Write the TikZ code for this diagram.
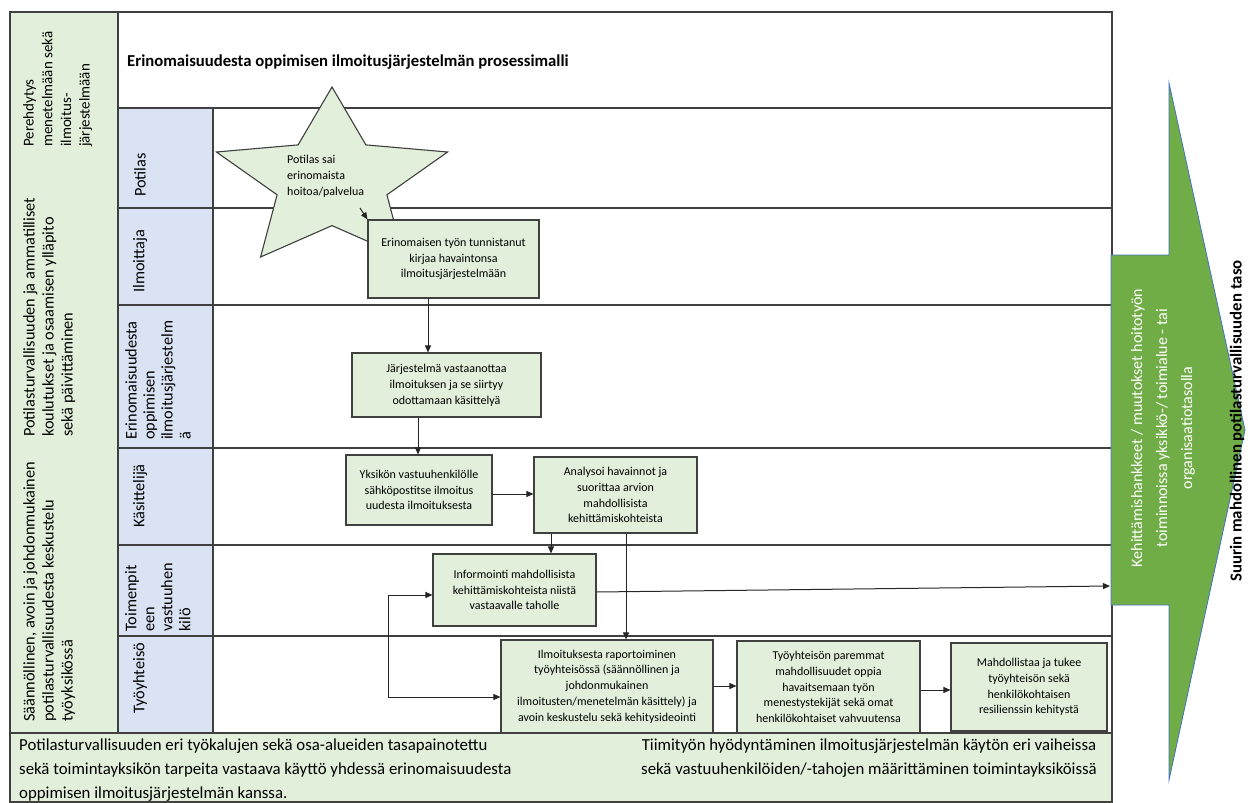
\documentclass[tikz,border=0pt]{standalone}
\usepackage{fontspec}
\setmainfont{Carlito}
\usetikzlibrary{arrows.meta}
\definecolor{linec}{HTML}{404040}
\definecolor{greenpale}{HTML}{E2EFDA}
\definecolor{bluepale}{HTML}{DAE3F3}
\definecolor{arrowgreen}{HTML}{70AD47}
\definecolor{arrowblue}{HTML}{4472C4}
\begin{document}
\begin{tikzpicture}[x=1pt,y=-1pt,
  frameline/.style={draw=linec, line width=1.2pt},
  box/.style={draw=linec, fill=greenpale, line width=1.1pt, align=center, inner sep=0pt,
    font=\fontsize{12}{15.8}\selectfont},
  coltext/.style={align=left, inner sep=0pt, font=\fontsize{16.3}{19}\selectfont},
  lanetext/.style={align=left, inner sep=0pt, font=\fontsize{16.3}{18}\selectfont, rotate=90},
  arr/.style={draw=black!85, line width=1pt, -{Triangle[length=7pt,width=6pt]}},
  arrboth/.style={draw=black!85, line width=1pt, {Triangle[length=7pt,width=6pt]}-{Triangle[length=7pt,width=6pt]}}
]
\useasboundingbox (0,0) rectangle (1253,803);
% background areas
\fill[white] (0,0) rectangle (1253,803);
\fill[greenpale] (10,12) rectangle (118,733);
\fill[bluepale] (118,108) rectangle (213,733);
% frame lines
\draw[frameline] (10,12) rectangle (1112,733);
\draw[frameline] (118,12) -- (118,733);
\draw[frameline] (213,108) -- (213,733);
\draw[frameline] (118,108) -- (1112,108);
\foreach \yy in {208,305,448,545,636}{\draw[frameline] (118,\yy) -- (1112,\yy);}
% left column texts
\node[coltext, rotate=90, anchor=north west, font=\fontsize{15}{18.7}\selectfont] (l1) at (23,147) {Perehdytys\\menetelmään sekä\\ilmoitus-\\järjestelmään};
\node[coltext, rotate=90, anchor=north west] (l2) at (23,437) {Potilasturvallisuuden ja ammatilliset\\koulutukset ja osaamisen ylläpito\\sekä päivittäminen};
\node[coltext, rotate=90, anchor=north west] (l3) at (23,722) {Säännöllinen, avoin ja johdonmukainen\\potilasturvallisuudesta keskustelu\\työyksikössä};
% lane labels
\node[lanetext, anchor=west] (ln1) at (140,197) {Potilas};
\node[lanetext, anchor=west] (ln2) at (140,293) {Ilmoittaja};
\node[lanetext, anchor=north west] (ln3) at (125,440) {Erinomaisuudesta\\oppimisen\\ilmoitusjärjestelm\\ä};
\node[lanetext, anchor=west] (ln4) at (140,528) {Käsittelijä};
\node[lanetext, anchor=north west] (ln5) at (125,632) {Toimenpit\\een\\vastuuhen\\kilö};
\node[lanetext, anchor=west] (ln6) at (140,714) {Työyhteisö};
% title
\node[anchor=west, inner sep=0pt, font=\bfseries\fontsize{16.7}{19}\selectfont] (title) at (127,62) {Erinomaisuudesta oppimisen ilmoitusjärjestelmän prosessimalli};
% star
\filldraw[fill=greenpale, draw=linec, line width=1.1pt]
  (332,87) -- (365.9,144.9) -- (447.6,152) -- (386.9,194.8) -- (403.4,257) -- (332,225.6)
  -- (260.6,257) -- (277.1,194.8) -- (216.4,152) -- (298.1,144.9) -- cycle;
\node[anchor=north west, align=left, inner sep=0pt, font=\fontsize{12}{16}\selectfont] (star) at (287,155) {Potilas sai\\erinomaista\\hoitoa/palvelua};
\coordinate (starout) at (360,208);
% boxes
\node[box, minimum width=171pt, minimum height=78pt] (b1) at (453.5,259) {Erinomaisen työn tunnistanut\\kirjaa havaintonsa\\ilmoitusjärjestelmään};
\node[box, minimum width=189pt, minimum height=64pt] (b2) at (446.5,385) {Järjestelmä vastaanottaa\\ilmoituksen ja se siirtyy\\odottamaan käsittelyä};
\node[box, minimum width=146pt, minimum height=70pt] (b3) at (419,490) {Yksikön vastuuhenkilölle\\sähköpostitse ilmoitus\\uudesta ilmoituksesta};
\node[box, minimum width=163pt, minimum height=76pt] (b4) at (615.5,495) {Analysoi havainnot ja\\suorittaa arvion\\mahdollisista\\kehittämiskohteista};
\node[box, minimum width=163pt, minimum height=72pt] (b5) at (514.5,590) {Informointi mahdollisista\\kehittämiskohteista niistä\\vastaavalle taholle};
\node[box, minimum width=212pt, minimum height=93pt] (b6) at (607,686.5) {Ilmoituksesta raportoiminen\\työyhteisössä (säännöllinen ja\\johdonmukainen\\ilmoitusten/menetelmän käsittely) ja\\avoin keskustelu sekä kehitysideointi};
\node[box, minimum width=183pt, minimum height=92pt] (b7) at (828.5,687) {Työyhteisön paremmat\\mahdollisuudet oppia\\havaitsemaan työn\\menestystekijät sekä omat\\henkilökohtaiset vahvuutensa};
\node[box, minimum width=156pt, minimum height=88pt] (b8) at (1029,687) {Mahdollistaa ja tukee\\työyhteisön sekä\\henkilökohtaisen\\resilienssin kehitystä};
% helper coordinates
\coordinate (x428) at (428,0);
\coordinate (x418) at (418,0);
\coordinate (y494) at (0,494);
\coordinate (x551) at (551,0);
\coordinate (x626) at (626,0);
\coordinate (y592) at (0,592);
\coordinate (y595) at (0,595);
\coordinate (y697) at (0,697);
\coordinate (loop) at (388,697);
\coordinate (y686) at (0,686);
\coordinate (y690) at (0,690);
\coordinate (arrowin) at (1110,586);
% connectors
\draw[arr] (starout) -- (b1.north west);
\draw[arr] (b1.south -| x428) -- (b2.north -| x428);
\draw[arr] (b2.south -| x418) -- (b3.north -| x418);
\draw[arr] (b3.east |- y494) -- (b4.west |- y494);
\draw[arr] (b4.south -| x551) -- (b5.north -| x551);
\draw[arr] (b4.south -| x626) -- (b6.north -| x626);
\draw[arrboth] (b5.west |- y595) -| (loop) -- (b6.west |- y697);
\draw[arr] (b6.east |- y686) -- (b7.west |- y686);
\draw[arr] (b7.east |- y690) -- (b8.west |- y690);
% bottom box
\filldraw[fill=greenpale, draw=linec, line width=1.2pt] (10,733) rectangle (1112,802);
\node[anchor=north west, align=left, inner sep=0pt, font=\fontsize{16.8}{24}\selectfont] (bl) at (19,739) {Potilasturvallisuuden eri työkalujen sekä osa-alueiden tasapainotettu\\sekä toimintayksikön tarpeita vastaava käyttö yhdessä erinomaisuudesta\\oppimisen ilmoitusjärjestelmän kanssa.};
\node[anchor=north, align=center, inner sep=0pt, font=\fontsize{16.8}{24}\selectfont] (br) at (869,739) {Tiimityön hyödyntäminen ilmoitusjärjestelmän käytön eri vaiheissa\\sekä vastuuhenkilöiden/-tahojen määrittäminen toimintayksiköissä};
% big arrow
\filldraw[fill=arrowgreen, draw=arrowblue, line width=0.8pt]
  (1111,255) -- (1169,255) -- (1169,83) -- (1245,430) -- (1169,780) -- (1169,605) -- (1111,605) -- cycle;
\node[rotate=90, align=center, inner sep=0pt, text=white, font=\fontsize{16}{25}\selectfont] (arrtext) at (1163,428) {Kehittämishankkeet / muutokset hoitotyön\\toiminnoissa yksikkö-/ toimialue - tai\\organisaatiotasolla};
\node[rotate=90, inner sep=0pt, font=\bfseries\fontsize{16.8}{19}\selectfont] (goal) at (1237,421) {Suurin mahdollinen potilasturvallisuuden taso};
\draw[arr] (b5.east |- y592) -- (arrowin);
\end{tikzpicture}
\end{document}
